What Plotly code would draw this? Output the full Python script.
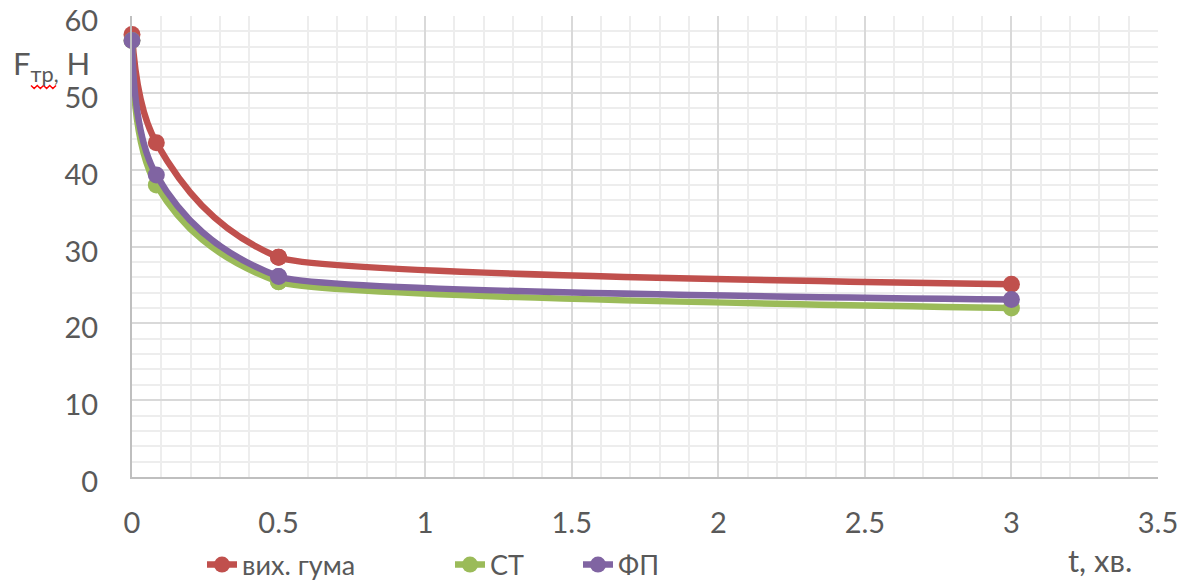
import plotly.graph_objects as go

# time, minutes
t_min = [0, 0.083, 0.5, 3]

# friction force, N
f_rubber = [57.6, 43.5, 28.6, 25.1]   # вих. гума
f_st = [56.8, 38.0, 25.4, 22.0]       # СТ
f_fp = [56.8, 39.3, 26.1, 23.1]       # ФП

series_names = ["вих. гума", "СТ", "ФП"]
series_colors = ["#C0504D", "#9BBB59", "#8064A2"]
series_values = [f_rubber, f_st, f_fp]
legend_ids = ["legend", "legend2", "legend3"]

X_MAX = 3.5
X_SPLIT = 0.5   # steep part (0..0.5) and flat part (0.5..3.5) use different smoothing

FONT = "Lato"
TEXT = "#595959"
GRID = "#D9D9D9"
GRID_MINOR = "#EDEDED"
AXIS_LINE = "#BFBFBF"
LINE_W = 6.5

fig = go.Figure()
# steep part of each curve (x axis 1: 0..0.5)
for name, color, vals in zip(series_names, series_colors, series_values):
    fig.add_trace(go.Scatter(
        x=t_min, y=vals, name=name, mode="lines+markers", xaxis="x", yaxis="y",
        line=dict(color=color, width=LINE_W, shape="spline", smoothing=1.0),
        marker=dict(color=color, size=17),
        cliponaxis=False, showlegend=False,
    ))
# flat part of each curve (x axis 2: 0.5..3.5)
for name, color, vals, lg in zip(series_names, series_colors, series_values, legend_ids):
    fig.add_trace(go.Scatter(
        x=t_min, y=vals, name=name, mode="lines+markers", xaxis="x2", yaxis="y",
        line=dict(color=color, width=LINE_W, shape="spline", smoothing=0.3),
        marker=dict(color=color, size=17),
        cliponaxis=False, legend=lg,
    ))

# plot area in pixels: x 132..1158, y 16..477
L, R, T, B = 132, 32, 16, 105
W, H = 1190, 582
pw, ph = W - L - R, H - T - B


def px(x):
    return (x - L) / pw


def py(y):
    return (H - B - y) / ph


legend_common = dict(orientation="h", yanchor="middle", xanchor="left",
                     font=dict(family=FONT, size=27, color=TEXT),
                     bgcolor="rgba(0,0,0,0)", borderwidth=0)

split = X_SPLIT / X_MAX
x_common = dict(
    showgrid=True, gridcolor=GRID, gridwidth=1.5,
    minor=dict(dtick=0.1, showgrid=True, gridcolor=GRID_MINOR, gridwidth=1.5),
    showline=True, linecolor=AXIS_LINE, linewidth=2,
    zeroline=False, ticks="", anchor="y",
    tickfont=dict(family=FONT, size=29, color=TEXT),
    ticklabelstandoff=19, ticklabeloverflow="allow",
)

fig.update_layout(
    width=W, height=H,
    margin=dict(l=L, r=R, t=T, b=B, autoexpand=False),
    paper_bgcolor="white", plot_bgcolor="rgba(0,0,0,0)",
    font=dict(family=FONT, color=TEXT),
    showlegend=True,
    legend=dict(x=px(202), y=py(565), **legend_common),
    legend2=dict(x=px(450), y=py(565), **legend_common),
    legend3=dict(x=px(578), y=py(565), **legend_common),
    xaxis=dict(range=[0, X_SPLIT], domain=[0, split], tick0=0, dtick=1, **x_common),
    xaxis2=dict(range=[X_SPLIT, X_MAX], domain=[split, 1], tick0=0, dtick=0.5, **x_common),
    yaxis=dict(
        range=[0, 60], dtick=10, tick0=0, anchor="x",
        showgrid=True, gridcolor=GRID, gridwidth=1.5,
        minor=dict(dtick=2, showgrid=True, gridcolor=GRID_MINOR, gridwidth=1.5),
        showline=True, linecolor=AXIS_LINE, linewidth=2,
        zeroline=False, ticks="",
        tickfont=dict(family=FONT, size=29, color=TEXT),
        ticklabelstandoff=26, ticklabelshift=5, ticklabeloverflow="allow",
    ),
)

# axis titles
fig.add_annotation(text="F<sub>тр,</sub> Н", xref="paper", yref="paper",
                   x=px(11), y=py(66), xanchor="left", yanchor="middle",
                   showarrow=False, font=dict(family=FONT, size=31, color=TEXT))
fig.add_annotation(text="t, хв.", xref="paper", yref="paper",
                   x=px(1066), y=py(560), xanchor="left", yanchor="middle",
                   showarrow=False, font=dict(family=FONT, size=31, color=TEXT))

# wavy underline beneath the subscript
pts = []
x0, x1, yb = 31, 56, 87
n = 8
for i in range(n + 1):
    xx = x0 + (x1 - x0) * i / n
    yy = yb + (1.5 if i % 2 else -1.5)
    pts.append(f"{px(xx):.5f},{py(yy):.5f}")
fig.add_shape(type="path", xref="paper", yref="paper",
              path="M" + " L".join(pts),
              line=dict(color="#FF0000", width=1.5))

fig.write_html("out.html")
